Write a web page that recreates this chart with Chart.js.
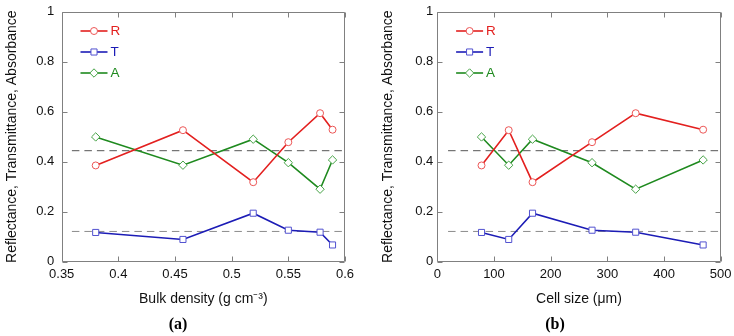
<!DOCTYPE html>
<html><head><meta charset="utf-8">
<script src="https://cdn.jsdelivr.net/npm/chart.js@4"></script>
<style>
html,body{margin:0;padding:0;background:#fff;}
#wrap{position:relative;width:734px;height:336px;overflow:hidden;background:#fff}
canvas{position:absolute;top:0}
</style></head><body>
<div id="wrap"><canvas id="ca" width="367" height="336" style="left:0"></canvas><canvas id="cb" width="367" height="336" style="left:367px"></canvas></div>
<script>
// ---- data ----
const seriesNames = ['R', 'T', 'A'];
const bulkDensity = [0.38, 0.457, 0.519, 0.55, 0.578, 0.589];
const cellSize = [78, 126, 168, 273, 350, 469];
const reflectance = [0.385, 0.526, 0.318, 0.478, 0.594, 0.528];
const transmittance = [0.117, 0.089, 0.194, 0.126, 0.118, 0.067];
const absorbance = [0.499, 0.386, 0.490, 0.396, 0.290, 0.407];
const meanLevels = [0.444, 0.121];
const meanSpanA = [0.359, 0.6];
const meanSpanB = [19, 500];
const xTicksA = [0.35, 0.4, 0.45, 0.5, 0.55, 0.6];
const xTickLabelsA = ['0.35', '0.4', '0.45', '0.5', '0.55', '0.6'];
const xTicksB = [0, 100, 200, 300, 400, 500];
const xTickLabelsB = ['0', '100', '200', '300', '400', '500'];
const yTicks = [0, 0.2, 0.4, 0.6, 0.8, 1];
const yTickLabels = ['0', '0.2', '0.4', '0.6', '0.8', '1'];
const yTitle = 'Reflectance, Transmittance, Absorbance';
const xTitleA = 'Bulk density (g cm\u207B\u00B3)';
const xTitleB = 'Cell size (\u03BCm)';
const panelLabels = ['(a)', '(b)'];

// ---- styles ----
const FONT = 'Liberation Sans';
const seriesStyles = [
  {line: '#e3201f', point: '#ec5656', pointStyle: 'circle', radius: 3.5},
  {line: '#1c1cb6', point: '#5252d0', pointStyle: 'rect', radius: 4.3},
  {line: '#1f8a1f', point: '#45a245', pointStyle: 'rectRot', radius: 4.2}
];
const meanColors = ['#555555', '#8c8c8c'];

Chart.defaults.font.family = FONT;
Chart.defaults.color = '#111';

const framePlugin = {
  id: 'frame',
  afterDatasetsDraw(chart, args, opts) {
    const {ctx, chartArea: ca, scales: {x, y}} = chart;
    const L = Math.round(ca.left) + 0.5, R = Math.round(ca.right) - 0.5;
    const T = Math.round(ca.top) + 0.5, B = Math.round(ca.bottom) - 0.5;
    ctx.save();
    ctx.strokeStyle = opts.color; ctx.lineWidth = 1;
    ctx.beginPath();
    ctx.rect(L, T, R - L, B - T);
    const tl = opts.tickLength;
    opts.xTicks.forEach(v => {
      const px = Math.round(x.getPixelForValue(v)) + 0.5;
      ctx.moveTo(px, B); ctx.lineTo(px, B - tl);
      ctx.moveTo(px, T); ctx.lineTo(px, T + tl);
    });
    opts.yTicks.forEach(v => {
      const py = Math.round(y.getPixelForValue(v)) + 0.5;
      ctx.moveTo(L, py); ctx.lineTo(L + tl, py);
      ctx.moveTo(R, py); ctx.lineTo(R - tl, py);
    });
    ctx.stroke();
    ctx.restore();
  }
};

const legendPlugin = {
  id: 'miniLegend',
  afterDraw(chart, args, opts) {
    const {ctx, chartArea: ca} = chart;
    ctx.save();
    chart.data.datasets.forEach(ds => {
      if (ds.legendRow === undefined) return;
      const y = ca.top + opts.rowTop + ds.legendRow * opts.rowGap;
      const x0 = ca.left + opts.lineStart, x1 = x0 + opts.lineLength;
      ctx.strokeStyle = ds.borderColor; ctx.lineWidth = ds.borderWidth;
      ctx.beginPath(); ctx.moveTo(x0, y); ctx.lineTo(x1, y); ctx.stroke();
      ctx.fillStyle = '#fff'; ctx.strokeStyle = ds.pointBorderColor; ctx.lineWidth = 1;
      Chart.helpers.drawPoint(ctx, {pointStyle: ds.pointStyle, radius: ds.pointRadius, rotation: 0, borderWidth: 1}, (x0 + x1) / 2, y);
      ctx.fillStyle = ds.borderColor;
      ctx.font = opts.fontSize + 'px ' + FONT;
      ctx.textBaseline = 'middle'; ctx.textAlign = 'left';
      ctx.fillText(ds.label, x1 + opts.textGap, y + 0.5);
    });
    ctx.restore();
  }
};

const panelLabelPlugin = {
  id: 'panelLabel',
  afterDraw(chart, args, opts) {
    const ctx = chart.ctx;
    ctx.save();
    ctx.fillStyle = '#000';
    ctx.font = 'bold 16px "Liberation Serif"';
    ctx.textAlign = 'center'; ctx.textBaseline = 'middle';
    ctx.fillText(opts.text, opts.x, opts.y);
    ctx.restore();
  }
};

function buildDatasets(xs, span) {
  const series = [reflectance, transmittance, absorbance];
  const ds = series.map((vals, i) => ({
    label: seriesNames[i],
    legendRow: i,
    data: xs.map((x, j) => ({x: x, y: vals[j]})),
    borderColor: seriesStyles[i].line,
    borderWidth: 1.6,
    pointStyle: seriesStyles[i].pointStyle,
    pointRadius: seriesStyles[i].radius,
    pointBorderColor: seriesStyles[i].point,
    pointBackgroundColor: '#ffffff',
    pointBorderWidth: 1,
    tension: 0,
    order: 1
  }));
  meanLevels.forEach((lv, i) => {
    ds.push({
      label: 'mean' + i,
      data: span.map(x => ({x: x, y: lv})),
      borderColor: meanColors[i],
      borderWidth: 1,
      borderDash: [7.5, 5],
      pointRadius: 0,
      order: 2
    });
  });
  return ds;
}

function makeChart(id, cfg) {
  return new Chart(document.getElementById(id), {
    type: 'line',
    data: {datasets: buildDatasets(cfg.xs, cfg.span)},
    options: {
      responsive: false, animation: false, devicePixelRatio: 1, events: [],
      layout: {padding: {left: 0, top: 11.7, right: cfg.padRight, bottom: 22}},
      plugins: {
        legend: {display: false}, tooltip: {enabled: false},
        frame: {color: '#808080', tickLength: 5, xTicks: cfg.xTicks, yTicks: yTicks},
        miniLegend: {rowTop: 19.3, rowGap: 21, lineStart: 18.8, lineLength: 27, textGap: 3, fontSize: 13.5},
        panelLabel: {text: cfg.label, x: cfg.labelX, y: 325}
      },
      scales: {
        x: {
          type: 'linear', min: cfg.xTicks[0], max: cfg.xTicks[cfg.xTicks.length - 1],
          grid: {display: false, drawTicks: false}, border: {display: false},
          afterBuildTicks: s => { s.ticks = cfg.xTicks.map(v => ({value: v})); },
          afterFit: s => { s.height = 52.3; s.paddingLeft = 0; s.paddingRight = 0; },
          ticks: {font: {size: 13}, color: '#111', padding: 4.5, maxRotation: 0, autoSkip: false,
                  callback: (v, i) => cfg.xLabels[i]},
          title: {display: true, text: cfg.xTitle, color: '#111', font: {size: 14}, padding: {top: 0, bottom: 6}}
        },
        y: {
          type: 'linear', min: 0, max: 1,
          grid: {display: false, drawTicks: false}, border: {display: false},
          afterBuildTicks: s => { s.ticks = yTicks.map(v => ({value: v})); },
          afterFit: s => { s.width = cfg.yWidth; s.paddingTop = 0; s.paddingBottom = 0; },
          ticks: {font: {size: 13}, color: '#111', padding: cfg.yPad, autoSkip: false,
                  callback: (v, i) => yTickLabels[i]},
          title: {display: true, text: yTitle, color: '#111', font: {size: 14}, padding: {top: cfg.yTitlePad, bottom: 0}}
        }
      }
    },
    plugins: [framePlugin, legendPlugin, panelLabelPlugin]
  });
}

makeChart('ca', {xs: bulkDensity, span: meanSpanA, xTicks: xTicksA, xLabels: xTickLabelsA, xTitle: xTitleA,
  label: panelLabels[0], labelX: 178, padRight: 22, yWidth: 61.7, yPad: 7.5, yTitlePad: 4});
makeChart('cb', {xs: cellSize, span: meanSpanB, xTicks: xTicksB, xLabels: xTickLabelsB, xTitle: xTitleB,
  label: panelLabels[1], labelX: 188, padRight: 13.3, yWidth: 70.3, yPad: 4, yTitlePad: 12.6});
</script>
</body></html>
